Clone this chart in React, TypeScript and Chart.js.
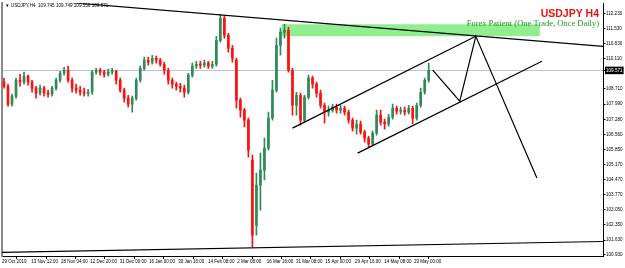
import React, { useEffect, useRef } from 'react';
import { Chart, registerables } from 'chart.js';

Chart.register(...registerables);

// ---- Candle data (H4, USDJPY) ----
const opens = [
  109.02, 108.83, 107.99, 108.37, 109.11, 109.02, 109.30, 109.02, 108.74, 108.51,
  108.74, 108.51, 108.46, 108.74, 109.11, 109.44, 109.58, 109.11, 108.74, 108.65,
  108.55, 108.51, 108.55, 109.49, 109.58, 109.49, 109.39, 109.49, 109.53, 109.11,
  108.65, 108.27, 107.99, 108.27, 109.11, 109.67, 110.05, 109.96, 110.14, 110.05,
  109.86, 109.58, 109.11, 108.93, 108.83, 108.74, 108.55, 109.35, 109.77, 109.86,
  109.82, 109.91, 109.77, 109.86, 110.98, 112.01, 111.22, 110.61, 110.05, 108.18,
  107.71, 107.24, 105.37, 102.33, 104.20, 104.90, 105.93, 107.34, 108.65, 110.75,
  111.36, 111.45, 109.58, 107.94, 108.41, 107.24, 108.32, 109.21, 108.93, 108.51,
  107.94, 107.62, 107.71, 107.85, 107.71, 107.80, 107.62, 107.24, 106.87, 107.06,
  106.68, 106.40, 106.12, 106.64, 107.48, 107.15, 107.06, 107.38, 107.80, 107.66,
  107.71, 107.62, 107.80, 107.34, 107.94, 108.55, 109.11,
];
const highs = [
  109.21, 108.93, 108.46, 109.21, 109.39, 109.49, 109.35, 109.11, 108.83, 108.88,
  108.83, 108.65, 108.83, 109.21, 109.53, 109.72, 109.77, 109.21, 108.93, 108.83,
  108.74, 108.69, 109.58, 109.67, 109.67, 109.58, 109.63, 109.67, 109.58, 109.21,
  108.74, 108.41, 108.37, 109.21, 109.77, 110.19, 110.19, 110.28, 110.24, 110.14,
  109.96, 109.67, 109.21, 109.02, 108.97, 108.88, 109.44, 109.91, 110.00, 110.00,
  110.05, 110.00, 110.00, 111.17, 112.20, 112.11, 111.31, 110.75, 110.14, 108.27,
  107.80, 107.34, 105.61, 104.76, 105.70, 106.40, 107.62, 109.11, 111.08, 111.55,
  111.73, 111.59, 109.67, 108.55, 108.51, 108.41, 109.35, 109.30, 109.02, 108.65,
  108.04, 107.90, 107.99, 107.99, 107.94, 107.90, 107.71, 107.34, 107.24, 107.20,
  106.78, 106.49, 106.73, 107.71, 107.71, 107.29, 107.52, 107.99, 107.90, 107.85,
  107.85, 107.94, 107.90, 108.04, 108.74, 109.21, 109.91,
];
const lows = [
  108.74, 107.90, 107.90, 108.27, 108.83, 108.93, 108.88, 108.55, 108.27, 108.41,
  108.37, 108.32, 108.37, 108.65, 109.02, 109.35, 109.02, 108.55, 108.51, 108.41,
  108.37, 108.37, 108.46, 109.39, 109.35, 109.25, 109.30, 109.39, 108.93, 108.55,
  108.08, 107.85, 107.62, 108.18, 109.02, 109.58, 109.82, 109.86, 109.91, 109.77,
  109.39, 108.93, 108.74, 108.65, 108.55, 108.32, 108.46, 109.25, 109.67, 109.67,
  109.72, 109.67, 109.67, 109.77, 110.89, 111.08, 110.42, 109.96, 107.80, 107.38,
  106.92, 105.51, 101.30, 101.86, 103.03, 104.44, 105.84, 107.24, 108.55, 110.28,
  111.08, 109.49, 107.48, 107.48, 107.01, 107.15, 108.23, 108.74, 108.32, 107.80,
  107.10, 107.43, 107.62, 107.57, 107.57, 107.48, 107.10, 106.73, 106.59, 106.59,
  106.21, 105.98, 106.03, 106.54, 107.01, 106.82, 106.96, 107.29, 107.52, 107.52,
  107.48, 107.52, 107.06, 107.24, 107.85, 108.46, 109.02,
];
const closes = [
  108.83, 107.99, 108.37, 109.11, 109.02, 109.30, 109.02, 108.74, 108.51, 108.74,
  108.51, 108.46, 108.74, 109.11, 109.44, 109.58, 109.11, 108.74, 108.65, 108.55,
  108.51, 108.55, 109.49, 109.58, 109.49, 109.39, 109.49, 109.53, 109.11, 108.65,
  108.27, 107.99, 108.27, 109.11, 109.67, 110.05, 109.96, 110.14, 110.05, 109.86,
  109.58, 109.11, 108.93, 108.83, 108.74, 108.55, 109.35, 109.77, 109.86, 109.82,
  109.91, 109.77, 109.86, 110.98, 112.01, 111.22, 110.61, 110.14, 108.18, 107.71,
  107.24, 105.84, 101.86, 104.20, 104.90, 105.93, 107.34, 108.65, 110.75, 111.36,
  111.45, 109.58, 107.94, 108.41, 107.24, 108.32, 109.21, 108.93, 108.51, 107.94,
  107.62, 107.71, 107.85, 107.71, 107.80, 107.62, 107.24, 106.87, 107.06, 106.68,
  106.40, 106.12, 106.64, 107.48, 107.15, 107.06, 107.38, 107.80, 107.66, 107.71,
  107.62, 107.80, 107.34, 107.94, 108.55, 109.11, 109.571,
];

// ---- Axis ticks ----
const xTickPos = [0, 7.3, 14.7, 22, 29.4, 36.7, 44, 51.4, 58.7, 66.1, 73.4, 80.7, 88.1, 95.4, 102.8];
const xTickLabels = [
  '29 Oct 2019', '13 Nov 12:00', '28 Nov 04:00', '12 Dec 20:00', '31 Dec 00:00',
  '16 Jan 00:00', '30 Jan 16:00', '14 Feb 08:00', '2 Mar 08:00', '16 Mar 16:00',
  '31 Mar 08:00', '15 Apr 00:00', '29 Apr 16:00', '14 May 08:00', '29 May 00:00',
];
const yTickValues = [
  112.23, 111.53, 110.83, 110.11, 109.571, 108.71, 107.99, 107.28, 106.56,
  105.85, 105.17, 104.47, 103.77, 103.05, 102.35, 101.63, 100.93,
];
const currentPrice = 109.571;
const yMin = 100.882;
const yMax = 112.715;
const xMin = 0;
const xMax = 150;

// ---- Drawn objects: [bar position, price] ----
const resistanceLine = [[0, 113.01], [150, 110.7]];
const supportLine = [[0, 101.05], [150, 101.56]];
const channelUpper = [[72.5, 106.87], [118.25, 111.17]];
const channelLower = [[88.75, 105.7], [134.75, 110.0]];
const projectionPath = [[107.5, 109.58], [114.25, 108.13], [118.25, 111.17], [133.5, 104.53]];
const zoneX = [69.75, 134.25];
const zoneTop = 111.73;
const zoneBottom = 111.17;

const infoText = '\u25BC USDJPY,H4  109.745 109.749 109.556 109.571';
const titleText = 'USDJPY H4';
const subtitleText = 'Forex Patient (One Trade, Once Daily)';

const UP = '#2e8b57';
const DOWN = '#ff1010';

const toPts = (arr: number[][]) => arr.map(([x, y]) => ({ x, y }));

export default function App() {
  const ref = useRef<HTMLCanvasElement | null>(null);

  useEffect(() => {
    document.body.style.margin = '0';
    const canvas = ref.current;
    if (!canvas) return;

    const colorAt = (i: number) => (closes[i] >= opens[i] ? UP : DOWN);

    const textPlugin = {
      id: 'mt4texts',
      afterDraw(chart: any) {
        const { ctx, chartArea } = chart;
        ctx.save();
        ctx.textBaseline = 'middle';
        ctx.fillStyle = '#000';
        ctx.font = '4.6px "Liberation Sans", Arial, sans-serif';
        ctx.textAlign = 'left';
        ctx.fillText(infoText, chartArea.left + 3, chartArea.top + 2.5);
        ctx.textAlign = 'right';
        ctx.fillStyle = '#ee1111';
        ctx.font = 'bold 10.5px "Liberation Sans", Arial, sans-serif';
        ctx.fillText(titleText, chartArea.right - 4, chartArea.top + 10.5);
        ctx.fillStyle = '#1f9b1f';
        ctx.font = '8.5px "Liberation Serif", "Times New Roman", serif';
        ctx.fillText(subtitleText, chartArea.right - 4, chartArea.top + 21);
        ctx.restore();
      },
    };

    const lineDs = (data: number[][], order = 1) => ({
      type: 'line' as const,
      data: toPts(data),
      borderColor: '#000',
      borderWidth: 1.2,
      pointRadius: 0,
      tension: 0,
      fill: false,
      order,
    });

    const chart = new Chart(canvas, {
      type: 'bar',
      data: {
        datasets: [
          {
            type: 'line',
            data: [{ x: zoneX[0], y: zoneTop }, { x: zoneX[1], y: zoneTop }],
            borderWidth: 0,
            borderColor: 'rgba(0,0,0,0)',
            pointRadius: 0,
            fill: false,
            order: 20,
          } as any,
          {
            type: 'line',
            data: [{ x: zoneX[0], y: zoneBottom }, { x: zoneX[1], y: zoneBottom }],
            borderWidth: 0,
            borderColor: 'rgba(0,0,0,0)',
            backgroundColor: '#90ee90',
            pointRadius: 0,
            fill: '-1',
            order: 19,
          } as any,
          {
            type: 'bar',
            data: lows.map((l, i) => ({ x: i + 0.5, y: [l, highs[i]] })),
            backgroundColor: (c: any) => colorAt(c.dataIndex),
            barThickness: 1,
            grouped: false,
            order: 6,
          } as any,
          {
            type: 'bar',
            data: opens.map((o, i) => ({ x: i + 0.5, y: [o, closes[i]] })),
            backgroundColor: (c: any) => colorAt(c.dataIndex),
            barThickness: 2,
            minBarLength: 1,
            grouped: false,
            order: 5,
          } as any,
          lineDs(resistanceLine),
          lineDs(supportLine),
          lineDs(channelUpper),
          lineDs(channelLower),
          lineDs(projectionPath),
        ],
      },
      options: {
        animation: false,
        responsive: false,
        maintainAspectRatio: false,
        layout: { padding: { top: 3, left: 0, right: 0, bottom: 0 } },
        plugins: { legend: { display: false }, tooltip: { enabled: false }, title: { display: false } },
        scales: {
          x: {
            type: 'linear',
            min: xMin,
            max: xMax,
            offset: false,
            afterBuildTicks: (s: any) => {
              s.ticks = xTickPos.map((v) => ({ value: v }));
            },
            afterFit: (s: any) => {
              s.height = 12;
            },
            ticks: {
              autoSkip: false,
              maxRotation: 0,
              minRotation: 0,
              align: 'start',
              padding: 0,
              color: '#000',
              font: { size: 4.5, family: '"Liberation Sans", Arial, sans-serif' },
              callback: (_v: any, i: number) => xTickLabels[i],
            },
            grid: { drawOnChartArea: false, drawTicks: true, tickLength: 3, tickColor: '#000' },
            border: { color: '#000', width: 1 },
          },
          y: {
            type: 'linear',
            position: 'right',
            min: yMin,
            max: yMax,
            afterBuildTicks: (s: any) => {
              s.ticks = yTickValues.map((v) => ({ value: v }));
            },
            afterFit: (s: any) => {
              s.width = 22;
            },
            ticks: {
              autoSkip: false,
              padding: 0.5,
              font: { size: 4.6, family: '"Liberation Sans", Arial, sans-serif' },
              color: (c: any) => (c.tick && Math.abs(c.tick.value - currentPrice) < 1e-6 ? '#fff' : '#000'),
              showLabelBackdrop: (c: any) => !!(c.tick && Math.abs(c.tick.value - currentPrice) < 1e-6),
              backdropColor: '#000',
              backdropPadding: { top: 1, bottom: 1, left: 1, right: 1 },
              callback: (v: any) => Number(v).toFixed(3),
            },
            grid: {
              drawOnChartArea: true,
              drawTicks: true,
              tickLength: 2.5,
              tickColor: '#000',
              color: (c: any) => (c.tick && Math.abs(c.tick.value - currentPrice) < 1e-6 ? '#c4c4c4' : 'rgba(0,0,0,0)'),
            },
            border: { color: '#000', width: 1 },
          },
          yL: {
            type: 'linear',
            position: 'left',
            display: true,
            afterFit: (s: any) => {
              s.width = 2;
            },
            ticks: { display: false },
            grid: { display: false, drawTicks: false },
            border: { color: '#8a8a8a', width: 2 },
          },
        },
      } as any,
      plugins: [textPlugin],
    });

    return () => chart.destroy();
  }, []);

  return (
    <div style={{ width: 625, height: 268, background: '#fff' }}>
      <canvas ref={ref} width={625} height={268} style={{ display: 'block' }} />
    </div>
  );
}
